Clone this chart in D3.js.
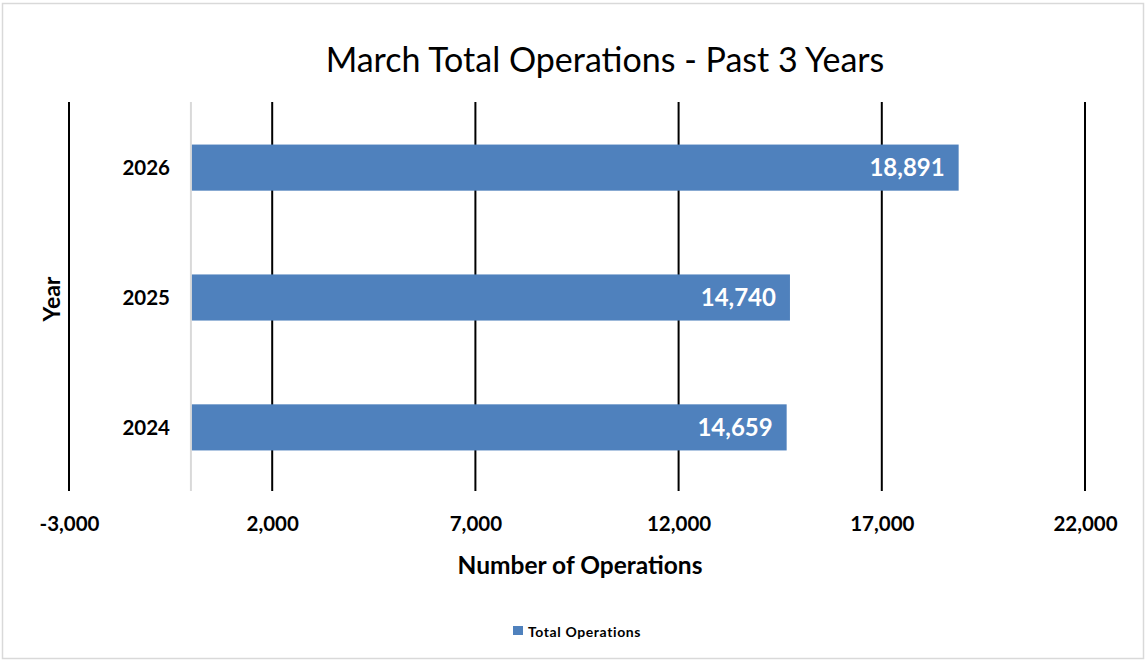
<!DOCTYPE html>
<html><head><meta charset="utf-8">
<script src="https://cdn.jsdelivr.net/npm/d3@7"></script>
<style>body{margin:0;background:#fff;} svg{display:block;font-family:Lato,"Open Sans",sans-serif;}</style>
</head><body><svg id="c" width="1146" height="661"></svg>
<script>
const categories = ["2026", "2025", "2024"];
const values = [18891, 14740, 14659];
const tickValues = [-3000, 2000, 7000, 12000, 17000, 22000];
const seriesName = "Total Operations";
const title = "March Total Operations - Past 3 Years";
const xTitle = "Number of Operations";
const yTitle = "Year";

const svg = d3.select("#c");
svg.append("rect").attr("x",2.5).attr("y",3.5).attr("width",1141).attr("height",655)
  .attr("fill","#fff").attr("stroke","#d9d9d9").attr("stroke-width",1.5);

const x = d3.scaleLinear().domain([-3000, 22000]).range([69, 1085]);
const y = d3.scaleBand().domain(categories).range([102, 491]).paddingInner(0.645).paddingOuter(0.32);
const loc = d3.formatLocale({decimal:".", thousands:",", grouping:[3], currency:["$",""], minus:"-"});
const fmt = loc.format(",");

// gridlines
svg.append("g").selectAll("line").data(tickValues).join("line")
  .attr("x1", d=>x(d)).attr("x2", d=>x(d)).attr("y1",102).attr("y2",491)
  .attr("stroke","#000").attr("stroke-width",2);
// zero line
svg.append("line").attr("x1",x(0)).attr("x2",x(0)).attr("y1",102).attr("y2",491)
  .attr("stroke","#d9d9d9").attr("stroke-width",2);

// bars
svg.append("g").selectAll("rect").data(values).join("rect")
  .attr("x", x(0)+1).attr("y",(d,i)=>y(categories[i])+1)
  .attr("width", d=>x(d)-x(0)-1).attr("height", y.bandwidth())
  .attr("fill","#4f81bd");

// value labels
svg.append("g").selectAll("text").data(values).join("text")
  .attr("x", d=>x(d)-14).attr("y",(d,i)=>y(categories[i])+1+y.bandwidth()/2)
  .attr("dy","0.36em").attr("text-anchor","end")
  .attr("fill","#fff").attr("font-weight","bold").attr("font-size",24)
  .text(d=>fmt(d));

// x axis tick labels
const xa = d3.axisBottom(x).tickValues(tickValues).tickSize(0).tickFormat(fmt);
const gx = svg.append("g").attr("transform","translate(0,513)").call(xa);
gx.select(".domain").remove();
gx.selectAll("text").attr("font-size",20.5).attr("font-weight","bold").attr("fill","#000")
  .attr("font-family","Lato,'Open Sans',sans-serif");

// y axis labels
const ya = d3.axisLeft(y).tickSize(0).tickPadding(0);
const gy = svg.append("g").attr("transform","translate(170,2)").call(ya);
gy.select(".domain").remove();
gy.selectAll("text").attr("font-size",20.5).attr("font-weight","bold").attr("fill","#000")
  .attr("font-family","Lato,'Open Sans',sans-serif");

// titles
svg.append("text").attr("x",605).attr("y",72).attr("text-anchor","middle")
  .attr("font-size",34).attr("fill","#000").text(title);
svg.append("text").attr("x",580).attr("y",574).attr("text-anchor","middle")
  .attr("font-size",24.5).attr("font-weight","bold").attr("fill","#000").text(xTitle);
svg.append("text").attr("transform","translate(60,299) rotate(-90)").attr("text-anchor","middle")
  .attr("font-size",23).attr("font-weight","bold").attr("fill","#000").text(yTitle);

// legend
svg.append("rect").attr("x",513).attr("y",626).attr("width",10).attr("height",9).attr("fill","#4f81bd");
svg.append("text").attr("x",528).attr("y",637).attr("font-size",14).attr("font-weight","bold")
  .attr("letter-spacing",0.6).attr("fill","#000").text(seriesName);
</script></body></html>
